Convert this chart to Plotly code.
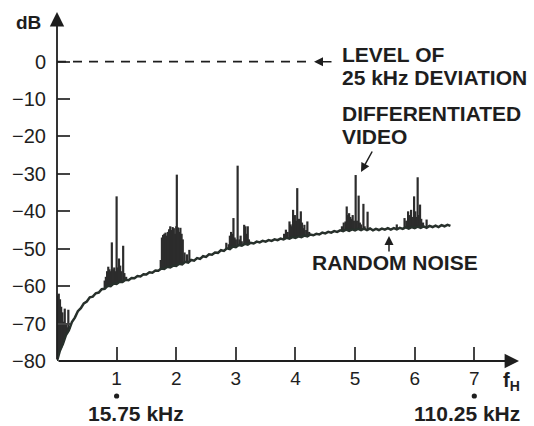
import numpy as np
import plotly.graph_objects as go

# ---------------- data ----------------
# random-noise floor, sampled every 0.05 f_H from 0 to 6.6
noise_f = np.round(np.arange(0, 6.601, 0.05), 2)
noise_db = [
    -80.0, -77.2, -75.4, -73.1, -71.8, -69.6, -68.4, -66.7, -65.9, -64.6,
    -64.1, -63.0, -62.8, -61.9, -61.7, -60.8, -60.7, -59.9, -60.0, -59.3,
    -59.4, -58.8, -58.9, -58.3, -58.4, -57.8, -57.9, -57.3, -57.4, -56.8,
    -56.9, -56.3, -56.4, -55.8, -55.9, -55.3, -55.4, -54.8, -55.0, -54.5,
    -54.6, -54.0, -54.2, -53.5, -53.7, -53.0, -53.2, -52.5, -52.7, -52.0,
    -52.2, -51.5, -51.6, -51.0, -51.1, -50.4, -50.6, -49.9, -50.1, -49.4,
    -49.6, -49.0, -49.2, -48.7, -48.9, -48.4, -48.6, -48.1, -48.3, -47.9,
    -48.1, -47.7, -47.9, -47.5, -47.7, -47.3, -47.5, -47.1, -47.3, -46.9,
    -47.1, -46.7, -46.9, -46.5, -46.7, -46.2, -46.4, -46.0, -46.2, -45.7,
    -45.9, -45.5, -45.7, -45.3, -45.5, -45.1, -45.3, -44.9, -45.2, -44.8,
    -45.1, -44.7, -45.0, -44.6, -45.0, -44.6, -45.1, -44.7, -45.0, -44.6,
    -44.9, -44.5, -44.9, -44.5, -44.8, -44.4, -44.7, -44.3, -44.6, -44.2,
    -44.5, -44.1, -44.4, -44.0, -44.4, -43.9, -44.2, -43.8, -44.2, -43.7,
    -44.0, -43.6, -43.9,
]

# differentiated-video spectral lines (frequency in f_H, peak level in dB)
spike_f = [
    0.01, 0.03, 0.05, 0.07, 0.09, 0.11, 0.13, 0.15, 0.17, 0.19, 0.21,
    0.80, 0.82, 0.84, 0.86, 0.88, 0.90, 0.92, 0.94, 0.96, 0.98, 1.00, 1.02,
    1.04, 1.06, 1.08, 1.11, 1.13, 1.16,
    1.74, 1.76, 1.78, 1.80, 1.82, 1.84, 1.86, 1.88, 1.90, 1.92, 1.94, 1.96,
    1.98, 2.00, 2.01, 2.03, 2.05, 2.07, 2.09, 2.11, 2.14, 2.18, 2.22, 2.25,
    2.84, 2.88, 2.90, 2.92, 2.94, 2.96, 2.98, 3.00, 3.03, 3.06, 3.08, 3.10,
    3.14, 3.16, 3.18, 3.20, 3.22,
    3.81, 3.84, 3.87, 3.90, 3.92, 3.94, 3.96, 3.99, 4.01, 4.03, 4.06, 4.09,
    4.11, 4.13, 4.15, 4.18, 4.20, 4.23,
    4.78, 4.81, 4.84, 4.86, 4.88, 4.90, 4.92, 4.94, 4.96, 4.98, 5.01, 5.03,
    5.06, 5.08, 5.10, 5.14, 5.16, 5.21,
    5.70, 5.83, 5.86, 5.89, 5.92, 5.94, 5.96, 5.99, 6.01, 6.03, 6.05, 6.07,
    6.09, 6.11, 6.14, 6.20, 6.24,
]
spike_db = [
    -62.5, -62.0, -63.5, -65.5, -67.0, -69.5, -66.0, -70.0, -71.0, -66.3, -71.0,
    -58.5, -57.5, -56.0, -54.8, -55.5, -56.0, -48.3, -55.5, -55.0, -56.0, -36.0, -55.0,
    -52.6, -54.5, -56.0, -49.2, -56.5, -57.5,
    -53.0, -47.0, -46.3, -46.0, -45.7, -46.5, -45.5, -44.8, -44.0, -45.0, -44.2, -44.5,
    -46.0, -44.0, -30.2, -44.3, -45.5, -44.4, -46.0, -47.5, -51.0, -51.5, -50.3, -53.0,
    -48.4, -48.8, -46.5, -45.5, -46.0, -41.8, -47.0, -47.5, -27.8, -47.5, -46.5, -48.0,
    -43.6, -44.0, -46.0, -44.0, -47.5,
    -46.0, -44.9, -45.5, -42.7, -43.5, -44.0, -39.6, -41.0, -42.5, -33.8, -42.0, -40.0,
    -43.0, -44.5, -43.6, -45.0, -42.7, -45.5,
    -44.0, -43.0, -42.7, -38.7, -41.0, -40.5, -41.5, -42.0, -41.0, -42.5, -30.3, -42.5,
    -35.8, -43.0, -43.5, -38.0, -44.0, -40.1,
    -43.5, -41.8, -42.5, -40.0, -41.0, -39.6, -41.5, -36.0, -40.0, -41.5, -30.9, -41.0,
    -38.2, -42.0, -43.0, -42.2, -43.8,
]

y_tick_vals = [-80, -70, -60, -50, -40, -30, -20, -10, 0]
y_tick_text = ["\u221280", "\u221270", "\u221260", "\u221250", "\u221240",
               "\u221230", "\u221220", "\u221210", "0"]
x_tick_vals = [1, 2, 3, 4, 5, 6, 7]
x_tick_text = ["1", "2", "3", "4", "5", "6", "7"]
marked_harmonics = [1, 7]   # harmonics marked with a dot and a frequency

# ---------------- layout geometry ----------------
W, H = 534, 426
ML, MR, MT, MB = 57, 15, 13, 65
XR = [0, 7.75]
YR = [-80, 13]
PW, PH = W - ML - MR, H - MT - MB


def fx(px):
    return XR[0] + (px - ML) / PW * (XR[1] - XR[0])


def fy(py):
    return YR[1] - (py - MT) / PH * (YR[1] - YR[0])


def paper_x(px):
    return (px - ML) / PW


def paper_y(py):
    return 1 - (py - MT) / PH


FONT = "Liberation Sans, Arial, Helvetica, sans-serif"
INK = "#1e1e1e"

# ---------------- traces ----------------
xs, ys = [], []
for f, p in zip(spike_f, spike_db):
    base = float(np.interp(f, noise_f, noise_db))
    xs += [f, f, None]
    ys += [base, p, None]

fig = go.Figure()
fig.add_trace(go.Scatter(x=xs, y=ys, mode="lines",
                         line=dict(color="#2c2c2c", width=2.2),
                         hoverinfo="skip", showlegend=False))
fig.add_trace(go.Scatter(x=noise_f, y=noise_db, mode="lines",
                         line=dict(color="#27302b", width=2.5),
                         showlegend=False))

# dashed 0 dB reference line
fig.add_shape(type="line", x0=0, x1=fx(311), y0=0, y1=0, xref="x", yref="y",
              line=dict(color=INK, width=1.6, dash="9px,7px"))

# dots below the marked harmonics
for h in marked_harmonics:
    fig.add_shape(type="circle", xref="x", yref="paper",
                  xsizemode="pixel", ysizemode="pixel",
                  xanchor=h, yanchor=paper_y(396),
                  x0=-2.6, x1=2.6, y0=-2.6, y1=2.6,
                  fillcolor=INK, line=dict(width=0))

ann = []
# axes with arrowheads
ann.append(dict(x=fx(519), y=-80, ax=0, ay=-80, axref="x", ayref="y",
                xref="x", yref="y", text="", showarrow=True, arrowhead=2,
                arrowsize=1.6, arrowwidth=1.8, arrowcolor=INK))
ann.append(dict(x=0, y=fy(12), ax=0, ay=-80, axref="x", ayref="y",
                xref="x", yref="y", text="", showarrow=True, arrowhead=2,
                arrowsize=1.6, arrowwidth=1.8, arrowcolor=INK))
# pointer arrows
ann.append(dict(x=fx(314), y=0, ax=19, ay=0, xref="x", yref="y", text="",
                showarrow=True, arrowhead=2, arrowsize=1.2, arrowwidth=1.5,
                arrowcolor=INK))
ann.append(dict(x=fx(361), y=fy(172), ax=12, ay=-22, xref="x", yref="y",
                text="", showarrow=True, arrowhead=2, arrowsize=1.2,
                arrowwidth=1.5, arrowcolor=INK))
ann.append(dict(x=fx(389), y=fy(236), ax=0, ay=17, xref="x", yref="y",
                text="", showarrow=True, arrowhead=2, arrowsize=1.2,
                arrowwidth=1.5, arrowcolor=INK))


def label(text, px, py, size=21, anchor="left", bold=True):
    ann.append(dict(x=paper_x(px), y=paper_y(py), xref="paper", yref="paper",
                    text=text, showarrow=False, xanchor=anchor,
                    yanchor="middle",
                    font=dict(family=FONT, size=size, color=INK,
                              weight="bold" if bold else "normal")))


label("dB", 28, 22, size=19, anchor="center")
label("LEVEL OF", 340, 54)
label("25 kHz DEVIATION", 340, 77)
label("DIFFERENTIATED", 340, 113)
label("VIDEO", 340, 136)
label("RANDOM NOISE", 395, 262, anchor="center")
label("15.75 kHz", 136, 413, anchor="center")
label("110.25 kHz", 467, 413, anchor="center")
label("f<sub>H</sub>", 511, 381, size=20, anchor="center")

fig.update_layout(
    width=W, height=H, autosize=False,
    margin=dict(l=ML, r=MR, t=MT, b=MB, pad=0, autoexpand=False),
    paper_bgcolor="white", plot_bgcolor="white",
    font=dict(family=FONT, color=INK),
    annotations=ann,
    xaxis=dict(range=XR, showgrid=False, zeroline=False, showline=False,
               automargin=False,
               ticks="inside", ticklen=14, tickwidth=1.5, tickcolor="#444",
               tickvals=x_tick_vals, ticktext=x_tick_text,
               tickfont=dict(family=FONT, size=19, color=INK),
               ticklabelstandoff=4),
    yaxis=dict(range=YR, showgrid=False, zeroline=False, showline=False,
               automargin=False,
               ticks="inside", ticklen=13, tickwidth=1.5, tickcolor="#444",
               tickvals=y_tick_vals, ticktext=y_tick_text,
               tickfont=dict(family=FONT, size=20, color=INK),
               ticklabelstandoff=10),
)

fig.write_html(
    "out.html",
    config={"displayModeBar": False},
    post_script="document.body.style.margin='0px';"
                "document.body.style.overflow='hidden';",
)
